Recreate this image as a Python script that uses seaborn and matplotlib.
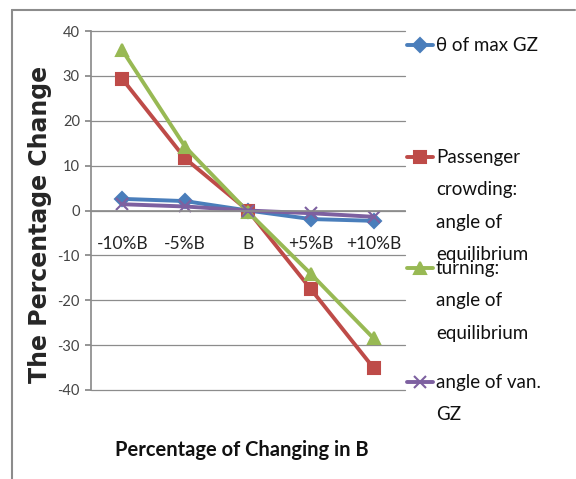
import matplotlib
matplotlib.use("Agg")
import matplotlib.pyplot as plt
from matplotlib.lines import Line2D
import seaborn as sns
import pandas as pd

categories = ["-10%B", "-5%B", "B", "+5%B", "+10%B"]
theta_max_gz = [2.6, 2.1, 0.0, -1.9, -2.3]
passenger_crowding = [29.3, 11.6, 0.0, -17.5, -35.1]
turning = [35.7, 14.2, -0.3, -14.1, -28.5]
angle_van_gz = [1.4, 0.9, 0.0, -0.6, -1.4]

series_names = ["θ of max GZ", "Passenger crowding: angle of equilibrium",
                "turning: angle of equilibrium", "angle of van. GZ"]
legend_labels = ["θ of max GZ", "Passenger\ncrowding:\nangle of\nequilibrium",
                 "turning:\nangle of\nequilibrium", "angle of van.\nGZ"]
colors = ["#4a7ebb", "#be4b48", "#98b954", "#7d60a0"]
markers = ["D", "s", "^", "x"]
msizes = [7, 8, 9, 9]

rows = []
for name, vals in zip(series_names, [theta_max_gz, passenger_crowding, turning, angle_van_gz]):
    for i, (c, v) in enumerate(zip(categories, vals)):
        rows.append({"cat": c, "idx": i, "value": v, "series": name})
df = pd.DataFrame(rows)

sns.set_theme(style="white")
plt.rcParams["font.family"] = ["Lato", "DejaVu Sans"]
plt.rcParams["axes.unicode_minus"] = False

fig = plt.figure(figsize=(5.76, 4.79), dpi=100)
ax = fig.add_axes([0.158, 0.186, 0.545, 0.749])

for name, c, m, ms in zip(series_names, colors, markers, msizes):
    sub = df[df["series"] == name]
    sns.lineplot(data=sub, x="idx", y="value", color=c, marker=m, markersize=ms,
                 linewidth=2.8, markeredgewidth=1.5, markeredgecolor=c,
                 ax=ax, legend=False, sort=False)

ax.set_xlim(-0.5, 4.5)
ax.set_ylim(-40, 40)
ax.set_yticks(range(-40, 41, 10))
ax.set_xticks(range(5))
ax.set_xticklabels(categories)
ax.tick_params(axis="x", length=0, pad=18, labelsize=12.5, labelcolor="#222222")
ax.tick_params(axis="y", length=4, color="#888888", labelsize=10.5, labelcolor="#444444", left=True, pad=4)
ax.grid(axis="y", color="#8c8c8c", linewidth=0.9)
for gl in ax.get_ygridlines():
    gl.set_clip_on(False)
ax.set_axisbelow(True)
for s in ["top", "right"]:
    ax.spines[s].set_visible(False)
ax.spines["bottom"].set_position(("data", 0))
ax.spines["bottom"].set_color("#8c8c8c")
ax.spines["left"].set_color("#8c8c8c")

ax.set_xlabel("")
ax.set_ylabel("The Percentage Change", fontsize=17, fontweight="bold",
              family="DejaVu Sans")
ax.yaxis.set_label_coords(-0.125, 0.46)
fig.text(0.42, 0.06, "Percentage of Changing in B", fontsize=14.5,
         fontweight="bold", ha="center", va="center", color="#111111")

# legend
entries_y = [45, 157, 268, 382]
W, H = 576, 479
for lab, c, m, ms, y in zip(legend_labels, colors, markers, msizes, entries_y):
    fy = 1 - y / H
    fig.add_artist(Line2D([407 / W, 433 / W], [fy, fy], color=c, linewidth=2.8))
    fig.add_artist(Line2D([420 / W], [fy], color=c, marker=m, markersize=ms,
                          markeredgecolor=c, markeredgewidth=1.5))
    fig.text(436 / W, fy + 8 / H, lab, fontsize=13.5, va="top", ha="left",
             color="#111111", linespacing=2.1)

# outer border
fig.add_artist(Line2D([12 / W, 575 / W], [1 - 10 / H, 1 - 10 / H], color="#8c8c8c", linewidth=1.5))
fig.add_artist(Line2D([12 / W, 12 / W], [1 - 10 / H, 0], color="#8c8c8c", linewidth=1.5))

fig.savefig("out.png", dpi=100)
